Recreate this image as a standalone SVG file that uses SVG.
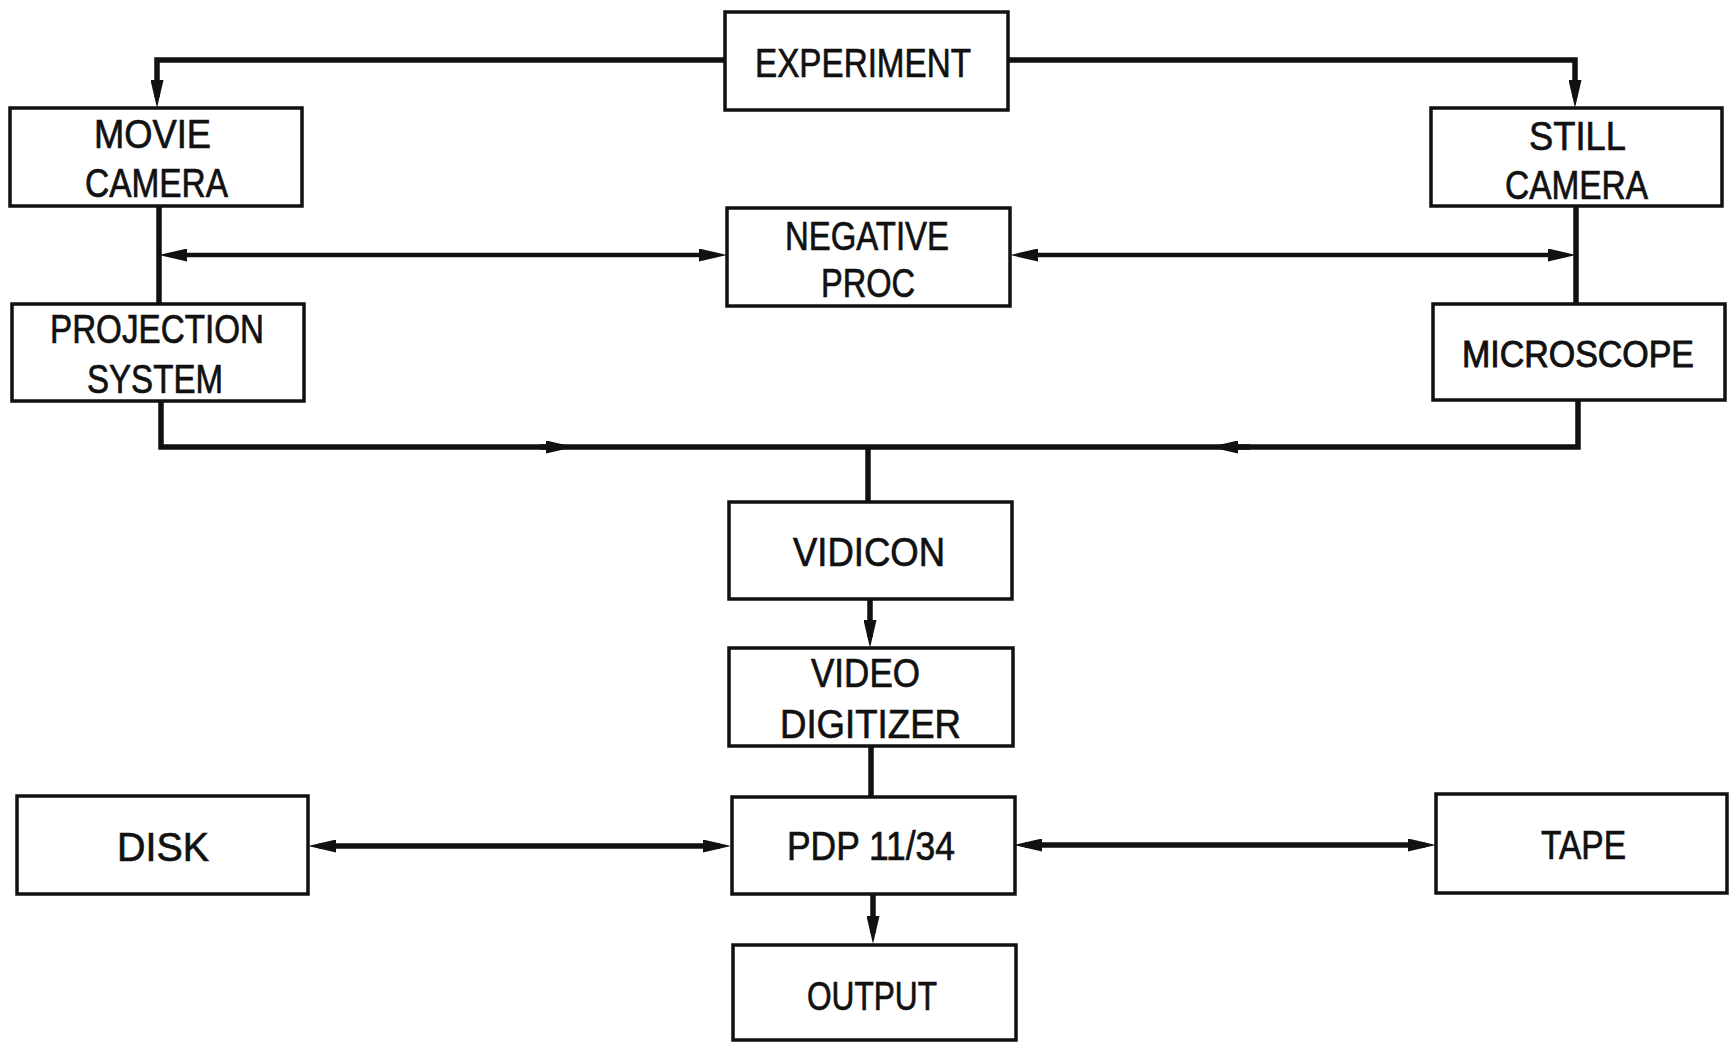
<svg xmlns="http://www.w3.org/2000/svg" width="1729" height="1042" viewBox="0 0 1729 1042">
<style>
.box{fill:none;stroke:#111;stroke-width:3.5}
.t{font-family:"Liberation Sans",Arial,sans-serif;font-size:41px;fill:#111;stroke:#111;stroke-width:0.7}
.c{fill:none;stroke:#111;stroke-width:5.5}
.c2{fill:none;stroke:#111;stroke-width:4.5}
</style>
<defs>
<marker id="ah" viewBox="0 0 28 13" refX="17" refY="6.5" markerWidth="28" markerHeight="13" markerUnits="userSpaceOnUse" orient="auto-start-reverse">
<path d="M0,0 L28,6.5 L0,13 z" fill="#111"/>
</marker>
</defs>
<rect width="1729" height="1042" fill="#fff"/>
<g id="connectors">
<path class="c" d="M724,60 H157 V97" marker-end="url(#ah)"/>
<path class="c" d="M1008,60 H1575 V97" marker-end="url(#ah)"/>
<path class="c" d="M159,206 V304"/>
<path class="c2" d="M170,255 H716" marker-start="url(#ah)" marker-end="url(#ah)"/>
<path class="c2" d="M1021,255 H1565" marker-start="url(#ah)" marker-end="url(#ah)"/>
<path class="c" d="M1576,206 V304"/>
<path class="c" d="M161,401 V447 H1578 V400"/>
<path class="c" d="M540,447 H563" marker-end="url(#ah)"/>
<path class="c" d="M1250,447 H1221" marker-end="url(#ah)"/>
<path class="c" d="M868,447 V502"/>
<path class="c" d="M870,599 V637" marker-end="url(#ah)"/>
<path class="c" d="M871,746 V796"/>
<path class="c" d="M873,894 V933" marker-end="url(#ah)"/>
<path class="c" d="M319,846 H720" marker-start="url(#ah)" marker-end="url(#ah)"/>
<path class="c" d="M1025,845 H1425" marker-start="url(#ah)" marker-end="url(#ah)"/>
</g>
<g id="experiment">
<rect class="box" x="725" y="12" width="283" height="98"/>
<text class="t" x="755" y="77" textLength="216" lengthAdjust="spacingAndGlyphs">EXPERIMENT</text>
</g>
<g id="movie-camera">
<rect class="box" x="10" y="108" width="292" height="98"/>
<text class="t" x="94" y="148" textLength="117" lengthAdjust="spacingAndGlyphs">MOVIE</text>
<text class="t" x="85" y="197" textLength="143" lengthAdjust="spacingAndGlyphs">CAMERA</text>
</g>
<g id="still-camera">
<rect class="box" x="1431" y="108" width="291" height="98"/>
<text class="t" x="1529" y="150" textLength="97" lengthAdjust="spacingAndGlyphs">STILL</text>
<text class="t" x="1505" y="199" textLength="143" lengthAdjust="spacingAndGlyphs">CAMERA</text>
</g>
<g id="negative-proc">
<rect class="box" x="727" y="208" width="283" height="98"/>
<text class="t" x="785" y="250" textLength="164" lengthAdjust="spacingAndGlyphs">NEGATIVE</text>
<text class="t" x="821" y="297" textLength="94" lengthAdjust="spacingAndGlyphs">PROC</text>
</g>
<g id="projection-system">
<rect class="box" x="12" y="304" width="292" height="97"/>
<text class="t" x="50" y="343" textLength="214" lengthAdjust="spacingAndGlyphs">PROJECTION</text>
<text class="t" x="87" y="393" textLength="136" lengthAdjust="spacingAndGlyphs">SYSTEM</text>
</g>
<g id="microscope">
<rect class="box" x="1433" y="304" width="292" height="96"/>
<text class="t" x="1578" y="367" text-anchor="middle" textLength="232" lengthAdjust="spacingAndGlyphs" style="font-size:37px;stroke-width:0.9">MICROSCOPE</text>
</g>
<g id="vidicon">
<rect class="box" x="729" y="502" width="283" height="97"/>
<text class="t" x="793" y="566" textLength="152" lengthAdjust="spacingAndGlyphs">VIDICON</text>
</g>
<g id="video-digitizer">
<rect class="box" x="729" y="648" width="284" height="98"/>
<text class="t" x="811" y="687" textLength="109" lengthAdjust="spacingAndGlyphs">VIDEO</text>
<text class="t" x="780" y="738" textLength="181" lengthAdjust="spacingAndGlyphs">DIGITIZER</text>
</g>
<g id="pdp">
<rect class="box" x="732" y="797" width="283" height="97"/>
<text class="t" x="787" y="860" textLength="168" lengthAdjust="spacingAndGlyphs">PDP 11/34</text>
</g>
<g id="output">
<rect class="box" x="733" y="945" width="283" height="95"/>
<text class="t" x="807" y="1010" textLength="130" lengthAdjust="spacingAndGlyphs">OUTPUT</text>
</g>
<g id="disk">
<rect class="box" x="17" y="796" width="291" height="98"/>
<text class="t" x="117" y="861" textLength="92" lengthAdjust="spacingAndGlyphs">DISK</text>
</g>
<g id="tape">
<rect class="box" x="1436" y="794" width="291" height="99"/>
<text class="t" x="1541" y="859" textLength="85" lengthAdjust="spacingAndGlyphs">TAPE</text>
</g>
</svg>
